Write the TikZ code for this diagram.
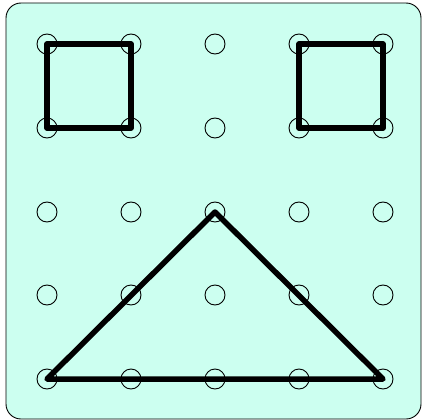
\documentclass[tikz,border=0pt]{standalone}
\usepackage{tikz}
\usetikzlibrary{positioning}
\definecolor{boardcyan}{HTML}{CCFFF0}

\begin{document}
\begin{tikzpicture}[
    x=1pt, y=-1pt,
    peg/.style={draw, circle, minimum size=20pt, inner sep=0pt, line width=0.9pt},
    band/.style={line width=5.5pt, line join=round, line cap=round}
]
\useasboundingbox (0,0) rectangle (423,420);
\draw[fill=boardcyan, rounded corners=15pt, line width=0.9pt] (6,3) rectangle (421,419);

% pegs of the board
\foreach \i/\x in {1/47,2/131,3/215,4/299,5/383}
  \foreach \j/\y in {1/44,2/128,3/212,4/295,5/379}
    \node[peg] (p\i\j) at (\x,\y) {};

% rubber bands
\draw[band] (p11.center) -- (p21.center) -- (p22.center) -- (p12.center) -- cycle;
\draw[band] (p41.center) -- (p51.center) -- (p52.center) -- (p42.center) -- cycle;
\draw[band] (p15.center) -- (p33.center) -- (p55.center) -- cycle;
\end{tikzpicture}
\end{document}
